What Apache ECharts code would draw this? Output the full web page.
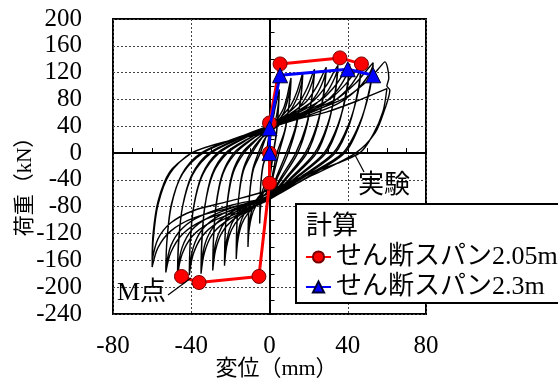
<!DOCTYPE html>
<html><head><meta charset="utf-8">
<script src="https://cdn.jsdelivr.net/npm/echarts@6/dist/echarts.min.js"></script>
<style>html,body{margin:0;padding:0;background:#fff}#c{width:558px;height:378px}</style>
</head><body><div id="c"></div>
<script>
// ---- data ----
const xRange = [-80, 80];
const yRange = [-240, 200];
const xLabelStep = 40;
const yLabelStep = 40;
const seriesNames = ['実験', 'せん断スパン2.05m', 'せん断スパン2.3m'];
// calculation (shear span 2.05 m)
const calc205 = [[-45,-184],[-36,-193],[-5.4,-184],[0,-45],[0,0],[0,45],[5.4,133],[36,142],[47,133]];
// calculation (shear span 2.3 m)
const calc23 = [[0,0],[0,37],[5.4,116],[40,125],[53,116]];
// experiment: hysteresis cycles (displacement mm, load kN), two cycles per amplitude
const cyc1a = [[0,0],[1,35],[2.5,62],[4,82],[5,95],[4.6,68],[3.65,31],[2,0],[1,-20],[0,-40],[-1.75,-50],[-3.25,-60],[-4.2,-71],[-4.75,-87],[-5,-105],[-4.9,-79],[-4.5,-47],[-3.4,-19],[-1.5,0],[-0.75,18]];
const cyc1b = [[0,27],[1.75,38],[3.25,51],[4.2,66],[4.75,80],[5,91],[4.55,65],[3.5,30],[1.8,0],[0.9,-19],[0,-38],[-1.75,-45],[-3.25,-53],[-4.2,-64],[-4.75,-79],[-5,-99],[-4.85,-74],[-4.4,-45],[-3.2,-18],[-1.2,0],[-0.6,18]];
const cyc2a = [[0,34],[3.9,50],[7.2,67],[9.1,86],[10.3,103],[11,112],[10.3,81],[8.2,37],[4.8,0],[2.4,-28],[0,-53],[-3.9,-67],[-7.2,-80],[-9.2,-95],[-10.5,-116],[-11,-140],[-10.8,-105],[-10.2,-63],[-8.6,-25],[-5.7,0],[-2.9,19]];
const cyc2b = [[0,30],[3.9,45],[7.2,60],[9.2,78],[10.5,95],[11,108],[10.2,76],[7.8,34],[3.8,0],[1.9,-27],[0,-51],[-3.9,-60],[-7.2,-72],[-9.2,-87],[-10.5,-107],[-11,-134],[-10.8,-100],[-10.1,-60],[-8.2,-24],[-4.7,0],[-2.4,19]];
const cyc3a = [[0,36],[6,54],[11,72],[14.1,92],[16,110],[17,120],[16.1,86],[13.7,40],[9.6,0],[4.8,-32],[0,-60],[-6,-76],[-11,-90],[-14.3,-107],[-16.2,-131],[-17,-158],[-16.8,-119],[-15.9,-71],[-13.8,-28],[-9.9,0],[-5,20]];
const cyc3b = [[0,32],[6,49],[11,65],[14.3,84],[16.2,102],[17,116],[16,81],[13.2,38],[8.6,0],[4.3,-30],[0,-58],[-6,-68],[-11,-82],[-14.3,-99],[-16.2,-122],[-17,-152],[-16.8,-114],[-15.8,-68],[-13.4,-27],[-8.9,0],[-4.5,20]];
const cyc4a = [[0,38],[8,56],[15,75],[19.1,96],[21.6,115],[23,125],[22,90],[19.1,41],[14.4,0],[7.2,-34],[0,-64],[-8,-81],[-15,-96],[-19.3,-114],[-21.9,-139],[-23,-168],[-22.7,-126],[-21.7,-76],[-19,-30],[-14.1,0],[-7,20]];
const cyc4b = [[0,34],[8,51],[15,68],[19.3,87],[21.9,106],[23,121],[21.8,85],[18.7,40],[13.4,0],[6.7,-32],[0,-62],[-8,-73],[-15,-87],[-19.3,-105],[-21.9,-130],[-23,-162],[-22.7,-122],[-21.5,-73],[-18.5,-29],[-13.1,0],[-6.6,20]];
const cyc5a = [[0,38],[10.2,58],[18.9,77],[24.1,99],[27.3,118],[29,128],[27.8,92],[24.6,42],[19.2,0],[9.6,-35],[0,-67],[-10.2,-84],[-18.9,-100],[-24.4,-119],[-27.6,-145],[-29,-175],[-28.7,-131],[-27.4,-79],[-24.2,-32],[-18.3,0],[-9.2,21]];
const cyc5b = [[0,35],[10.2,52],[18.9,69],[24.4,89],[27.6,109],[29,124],[27.7,87],[24.1,41],[18.2,0],[9.1,-34],[0,-64],[-10.2,-76],[-18.9,-91],[-24.4,-110],[-27.6,-135],[-29,-169],[-28.6,-127],[-27.2,-76],[-23.7,-30],[-17.3,0],[-8.7,21]];
const cyc6a = [[0,39],[12.3,59],[22.8,79],[29.1,101],[32.9,121],[35,131],[33.7,94],[30,43],[24,0],[12,-36],[0,-68],[-12.3,-86],[-22.8,-103],[-29.4,-122],[-33.3,-149],[-35,-180],[-34.6,-135],[-33.1,-81],[-29.4,-32],[-22.5,0],[-11.3,21]];
const cyc6b = [[0,36],[12.3,53],[22.8,71],[29.4,91],[33.3,112],[35,127],[33.6,89],[29.6,42],[23,0],[11.5,-35],[0,-66],[-12.3,-78],[-22.8,-94],[-29.4,-113],[-33.3,-139],[-35,-174],[-34.6,-130],[-33,-78],[-28.9,-31],[-21.5,0],[-10.8,21]];
const cyc7a = [[0,40],[14.4,60],[26.7,80],[34,102],[38.5,122],[41,133],[39.5,96],[35.5,44],[28.8,0],[14.4,-36],[0,-69],[-14.4,-87],[-26.7,-104],[-34.4,-124],[-39,-151],[-41,-182],[-40.6,-137],[-38.9,-82],[-34.6,-33],[-26.7,0],[-13.4,22]];
const cyc7b = [[0,37],[14.4,54],[26.7,72],[34.4,93],[39,114],[41,129],[39.4,90],[35.1,43],[27.8,0],[13.9,-35],[0,-67],[-14.4,-79],[-26.7,-95],[-34.4,-114],[-39,-141],[-41,-176],[-40.5,-132],[-38.7,-79],[-34.1,-32],[-25.7,0],[-12.9,22]];
const cyc8a = [[0,40],[16.5,60],[30.6,80],[39,103],[44.2,123],[47,134],[45.4,96],[41,44],[33.6,0],[16.8,-36],[0,-69],[-16.5,-87],[-30.6,-104],[-39.5,-124],[-44.7,-151],[-47,-182],[-46.5,-137],[-44.6,-82],[-39.8,-33],[-30.9,0],[-15.5,22]];
const cyc8b = [[0,38],[16.5,55],[30.6,73],[39.5,94],[44.7,114],[47,130],[45.3,91],[40.5,43],[32.6,0],[16.3,-35],[0,-67],[-16.5,-79],[-30.6,-95],[-39.5,-114],[-44.7,-141],[-47,-176],[-46.5,-132],[-44.4,-79],[-39.3,-32],[-29.9,0],[-15,22]];
const cyc9a = [[0,40],[18.6,61],[34.5,81],[44,104],[49.8,124],[53,135],[51.2,97],[46.4,45],[38.4,0],[19.2,-36],[0,-68],[-18.6,-85],[-34.5,-101],[-44.5,-121],[-50.4,-148],[-53,-178],[-52.5,-134],[-50.3,-80],[-44.9,-32],[-35.1,0],[-17.6,22]];
const cyc9b = [[0,38],[18.6,55],[34.5,73],[44.5,94],[50.4,115],[53,131],[51.1,92],[46,44],[37.4,0],[18.7,-34],[0,-65],[-18.6,-77],[-34.5,-93],[-44.5,-112],[-50.4,-138],[-53,-172],[-52.4,-129],[-50.2,-77],[-44.5,-31],[-34.1,0],[-17,22]];
const cyc10a = [[0,41],[20.7,61],[38.4,82],[49,105],[55.5,125],[59,136],[61,112],[60,100],[61.5,94],[59,66],[54,30],[44,0],[22,-33],[0,-65],[-21,-82],[-39,-97],[-50.4,-116],[-57,-141],[-60,-170],[-59.4,-128],[-57,-77],[-51,-31],[-40,0],[-20,19]];
const cyc10b = [[0,32],[5,42],[15,51],[29,61],[45,78],[60,96],[58,62],[53,28],[46,0],[23,-28],[0,-55],[-21,-72],[-39,-86],[-50.4,-104],[-57,-128],[-60,-160],[-59.5,-120],[-57,-72],[-51,-28],[-40,0]];
const experiment = [].concat(cyc1a,cyc1b,cyc2a,cyc2b,cyc3a,cyc3b,cyc4a,cyc4b,cyc5a,cyc5b,
  cyc6a,cyc6b,cyc7a,cyc7b,cyc8a,cyc8b,cyc9a,cyc9b,cyc10a,cyc10b);

// ---- chart ----
const F = "'Liberation Serif','Noto Sans CJK JP',serif";
const chart = echarts.init(document.getElementById('c'), null, {renderer:'canvas'});
const gridLine = {show:true, lineStyle:{color:'#444', type:[2,2], width:1}};
chart.setOption({
  animation:false,
  backgroundColor:'#fff',
  grid:{left:113, right:132, top:19, bottom:64, show:true, borderColor:'#000', borderWidth:2,
        backgroundColor:'transparent', outerBoundsMode:'none', containLabel:false},
  xAxis:[
    {type:'value', min:xRange[0], max:xRange[1], interval:xLabelStep, position:'bottom',
     axisLine:{show:false}, axisTick:{show:false}, splitLine:gridLine,
     axisLabel:{margin:20, fontSize:25, color:'#000', fontFamily:F},
     name:'変位（mm）', nameLocation:'middle', nameGap:44, nameMoveOverlap:false,
     nameTextStyle:{fontSize:22, color:'#000', fontFamily:F, padding:[0,0,0,14]}},
    {type:'value', min:xRange[0], max:xRange[1], interval:10, position:'bottom',
     axisLine:{show:true, onZero:true, lineStyle:{color:'#000', width:2}},
     axisTick:{show:true, inside:true, length:5, lineStyle:{color:'#000', width:1}},
     axisLabel:{show:false}, splitLine:{show:false}}
  ],
  yAxis:[
    {type:'value', min:yRange[0], max:yRange[1], interval:yLabelStep, position:'left',
     axisLine:{show:false}, axisTick:{show:false}, splitLine:gridLine,
     axisLabel:{margin:31, fontSize:25, color:'#000', fontFamily:F},
     name:'荷重（kN）', nameLocation:'middle', nameGap:77, nameRotate:90, nameMoveOverlap:false,
     nameTextStyle:{fontSize:21, color:'#000', fontFamily:F, padding:[0,30,0,0]}},
    {type:'value', min:yRange[0], max:yRange[1], interval:20, position:'left',
     axisLine:{show:true, onZero:true, lineStyle:{color:'#000', width:2}},
     axisTick:{show:true, inside:true, length:5, lineStyle:{color:'#000', width:1}},
     axisLabel:{show:false}, splitLine:{show:false}}
  ],
  legend:{data:[seriesNames[1], seriesNames[2]], orient:'vertical', left:296, top:204,
    padding:[40,60,3,9], itemGap:4, itemWidth:25, itemHeight:14,
    backgroundColor:'#fff', borderColor:'#000', borderWidth:2,
    textStyle:{fontSize:26, fontFamily:F, color:'#000'}},
  series:[
    {name:seriesNames[0], type:'line', data:experiment, symbol:'none', smooth:0.3,
     lineStyle:{color:'#000', width:1.4}, z:2},
    {name:seriesNames[1], type:'line', data:calc205, symbol:'circle', symbolSize:14,
     lineStyle:{color:'#ff0000', width:3}, itemStyle:{color:'#ff0000', borderColor:'#700', borderWidth:1}, z:3},
    {name:seriesNames[2], type:'line', data:calc23, symbol:'triangle', symbolSize:15,
     lineStyle:{color:'#0000ff', width:3}, itemStyle:{color:'#0000ff', borderColor:'#003', borderWidth:1}, z:4}
  ],
  graphic:[
    {type:'text', left:306, top:214, z:100, style:{text:'計算', font:"26px "+F, fill:'#000'}},
    {type:'text', left:358, top:173, z:100, style:{text:'実験', font:"26px "+F, fill:'#000'}},
    {type:'line', z:100, shape:{x1:364, y1:172, x2:355, y2:155}, style:{stroke:'#000', lineWidth:1.2}},
    {type:'text', left:117, top:280, z:100, style:{text:'M点', font:"26px "+F, fill:'#000'}},
    {type:'line', z:100, shape:{x1:168, y1:295, x2:191, y2:278}, style:{stroke:'#000', lineWidth:1.2}}
  ]
});
</script></body></html>
